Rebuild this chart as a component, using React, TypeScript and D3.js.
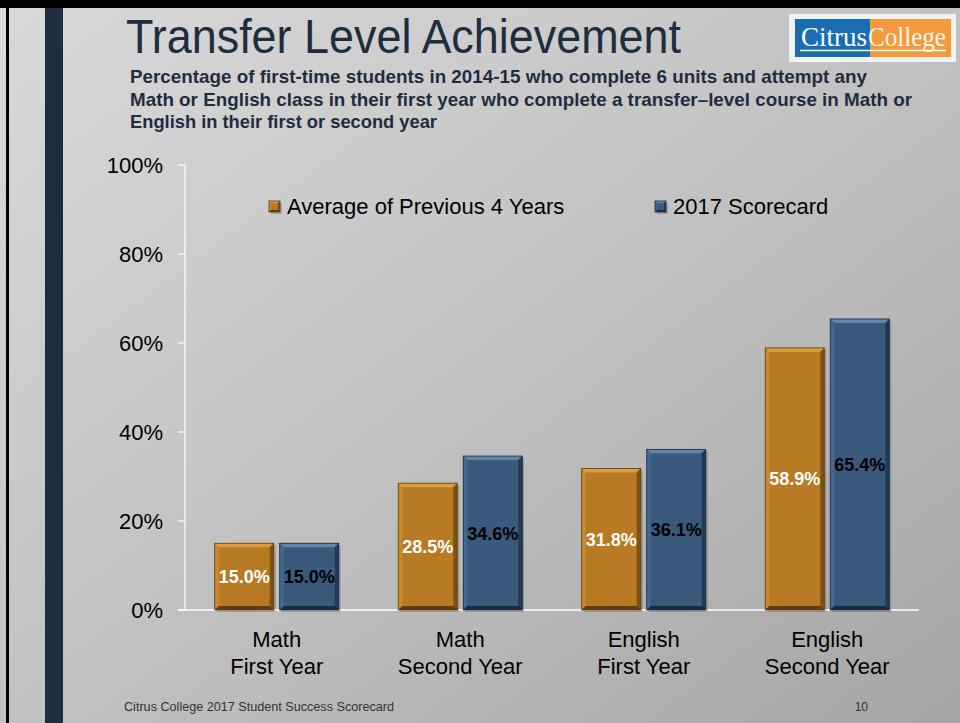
import React from "react";
import * as d3 from "d3";

const categories = ["Math First Year", "Math Second Year", "English First Year", "English Second Year"];
const catLine1 = ["Math", "Math", "English", "English"];
const catLine2 = ["First Year", "Second Year", "First Year", "Second Year"];
const seriesNames = ["Average of Previous 4 Years", "2017 Scorecard"];
const avgPrev = [15.0, 28.5, 31.8, 58.9];
const score2017 = [15.0, 34.6, 36.1, 65.4];
const yTicks = [0, 20, 40, 60, 80, 100];
const subtitleLines = [
  "Percentage of first-time students in 2014-15 who complete 6 units and attempt any",
  "Math or English class in their first year who complete a transfer\u2013level course in Math or",
  "English in their first or second year",
];

const W = 960;
const H = 723;

const palettes = [
  { base: "#b87a22", light: "#dc9d45", mid: "#c98a2e", dark: "#7d5014", darker: "#5e3c0e", text: "#ffffff" },
  { base: "#3a5a7d", light: "#6384ab", mid: "#46688e", dark: "#233a55", darker: "#1a2b40", text: "#000000" },
];

function BevelRect({ x, y, w, h, p, b = 4 }: { x: number; y: number; w: number; h: number; p: any; b?: number }) {
  const x1 = x + w;
  const y1 = y + h;
  const pts = (arr: number[][]) => arr.map((a) => a.join(",")).join(" ");
  return (
    <g>
      <rect x={x + 2} y={y + 2} width={w} height={h} fill="rgba(0,0,0,0.18)" />
      <rect x={x} y={y} width={w} height={h} fill={p.base} />
      <polygon points={pts([[x, y], [x1, y], [x1 - b, y + b], [x + b, y + b]])} fill={p.light} />
      <polygon points={pts([[x, y], [x + b, y + b], [x + b, y1 - b], [x, y1]])} fill={p.mid} />
      <polygon points={pts([[x1, y], [x1, y1], [x1 - b, y1 - b], [x1 - b, y + b]])} fill={p.dark} />
      <polygon points={pts([[x, y1], [x1, y1], [x1 - b, y1 - b], [x + b, y1 - b]])} fill={p.darker} />
      <rect x={x} y={y} width={w} height={h} fill="none" stroke={p.darker} strokeWidth={0.8} />
    </g>
  );
}

export default function App() {
  const y = d3.scaleLinear().domain([0, 100]).range([610, 165]);
  const x = d3
    .scaleBand<string>()
    .domain(categories)
    .range([185, 919])
    .paddingInner(0.324)
    .paddingOuter(0.162);
  const xs = d3.scaleBand<string>().domain(seriesNames).range([0, x.bandwidth()]).paddingInner(0.092);
  const seriesValues = [avgPrev, score2017];

  return (
    <svg width={W} height={H} style={{ position: "absolute", left: 0, top: 0 }} fontFamily="'Liberation Sans', Arial, sans-serif">
      <defs>
        <linearGradient id="bg" x1="0" y1="0" x2="1" y2="1">
          <stop offset="0" stopColor="#dadada" />
          <stop offset="0.5" stopColor="#c2c2c2" />
          <stop offset="1" stopColor="#a5a5a5" />
        </linearGradient>
      </defs>
      <rect x={0} y={0} width={W} height={H} fill="url(#bg)" />
      <rect x={0} y={0} width={W} height={8} fill="#000" />
      <rect x={6} y={0} width={3} height={H} fill="#000" />
      <rect x={45} y={8} width={18} height={H} fill="#1e2d3f" />

      {/* Logo */}
      <g>
        <rect x={789} y={14} width={167} height={48} fill="#f2f2f2" />
        <rect x={795} y={19} width={75} height={38} fill="#1b6db3" />
        <rect x={870} y={19} width={81} height={38} fill="#f59a3c" />
        <text x={801} y={46} fill="#ffffff" fontFamily="'Liberation Serif', serif" fontSize={28} textLength={66} lengthAdjust="spacingAndGlyphs">Citrus</text>
        <text x={868} y={46} fill="#fff8ee" fontFamily="'Liberation Serif', serif" fontSize={28} textLength={78} lengthAdjust="spacingAndGlyphs">College</text>
        <line x1={800} x2={946} y1={50.5} y2={50.5} stroke="#ffffff" strokeWidth={1.5} />
      </g>

      {/* Title */}
      <text x={126} y={53} fontSize={48} fill="#1e2d3f" textLength={555} lengthAdjust="spacingAndGlyphs">
        Transfer Level Achievement
      </text>
      {subtitleLines.map((s, i) => {
        const lens = [737, 782, 307];
        return (
          <text key={i} x={130} y={83 + i * 22.5} fontSize={19} fontWeight="bold" fill="#1e2d3f" textLength={lens[i]} lengthAdjust="spacingAndGlyphs">
            {s}
          </text>
        );
      })}

      {/* Axis */}
      <line x1={185} x2={185} y1={y(100)} y2={y(0)} stroke="#ffffff" strokeWidth={1.2} />
      <line x1={178} x2={919} y1={y(0)} y2={y(0)} stroke="#ffffff" strokeWidth={1.5} />
      {yTicks.map((t) => (
        <g key={t}>
          <line x1={178} x2={185} y1={y(t)} y2={y(t)} stroke="#ffffff" strokeWidth={1.2} />
          <text x={163} y={y(t) + 8} textAnchor="end" fontSize={22} fill="#000">
            {t}%
          </text>
        </g>
      ))}

      {/* Bars */}
      {categories.map((c, ci) => (
        <g key={c}>
          {seriesNames.map((s, si) => {
            const v = seriesValues[si][ci];
            const bx = (x(c) as number) + (xs(s) as number);
            const by = y(v);
            const bw = xs.bandwidth();
            const bh = y(0) - y(v);
            const p = palettes[si];
            return (
              <g key={s}>
                <BevelRect x={bx} y={by} w={bw} h={bh} p={p} />
                <text x={bx + bw / 2} y={by + bh / 2 + 6.5} textAnchor="middle" fontSize={18} fontWeight="bold" fill={p.text}>
                  {v.toFixed(1)}%
                </text>
              </g>
            );
          })}
          <text x={(x(c) as number) + x.bandwidth() / 2} y={647} textAnchor="middle" fontSize={22} fill="#000">
            {catLine1[ci]}
          </text>
          <text x={(x(c) as number) + x.bandwidth() / 2} y={674} textAnchor="middle" fontSize={22} fill="#000">
            {catLine2[ci]}
          </text>
        </g>
      ))}

      {/* Legend */}
      {seriesNames.map((s, si) => {
        const lx = [269, 655][si];
        return (
          <g key={s}>
            <BevelRect x={lx} y={201} w={11} h={11} p={palettes[si]} b={2} />
            <text x={lx + 18} y={214} fontSize={22} fill="#000">
              {s}
            </text>
          </g>
        );
      })}

      {/* Footer */}
      <text x={124} y={711} fontSize={12} fill="#333" textLength={270} lengthAdjust="spacingAndGlyphs">
        Citrus College 2017 Student Success Scorecard
      </text>
      <text x={868} y={711} fontSize={12} fill="#333" textAnchor="end">
        10
      </text>
    </svg>
  );
}
